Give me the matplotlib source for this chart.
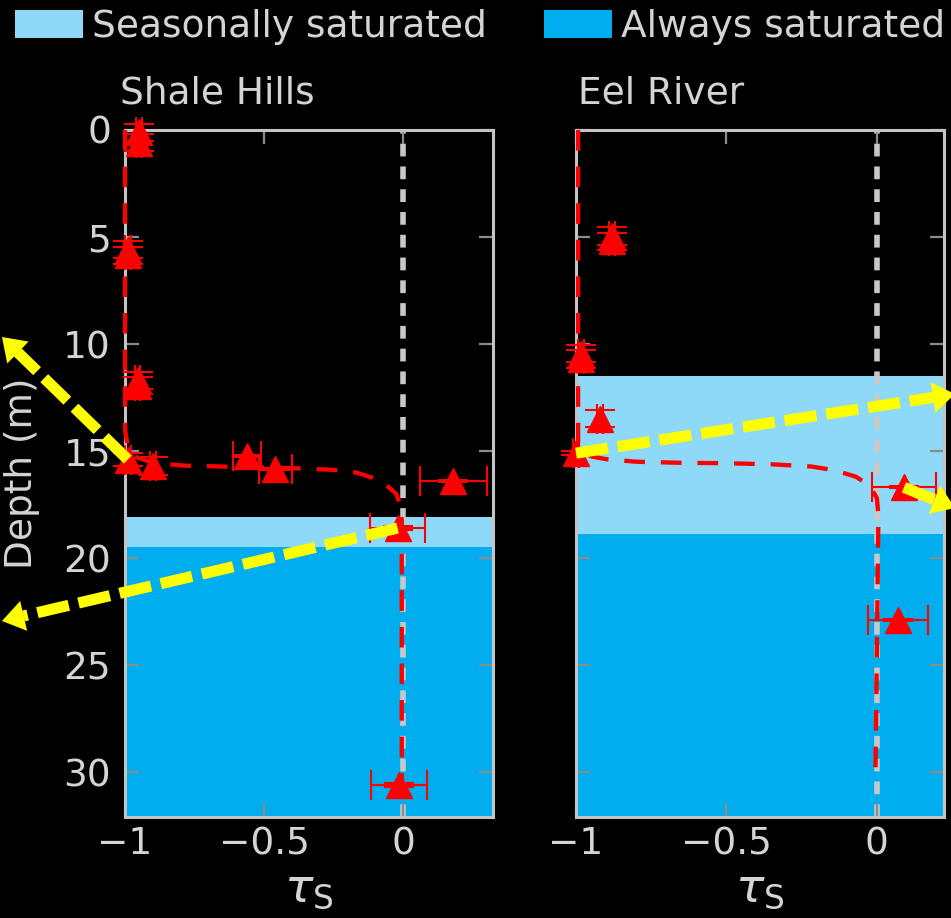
import matplotlib
matplotlib.use("Agg")
import numpy as np
import matplotlib.pyplot as plt
from matplotlib.patches import Patch, FancyArrowPatch
from matplotlib.lines import Line2D
from matplotlib.transforms import IdentityTransform

# ---------------- data ----------------
panel_titles = ["Shale Hills", "Eel River"]
legend_labels = ["Seasonally saturated", "Always saturated"]
xtick_vals = [-1, -0.5, 0]
xtick_labels = ["\u22121", "\u22120.5", "0"]
ytick_vals = [0, 5, 10, 15, 20, 25, 30]
ytick_labels = ["0", "5", "10", "15", "20", "25", "30"]

# Shale Hills measured tau_S (with error bars)
sh_tau = [-0.95, -0.95, -0.99, -0.99, -0.955, -0.955, -0.99, -0.90, -0.56, -0.46, 0.18, -0.02, -0.015]
sh_depth = [0.1, 0.6, 5.6, 5.85, 11.7, 11.95, 15.4, 15.7, 15.25, 15.85, 16.4, 18.6, 30.6]
sh_xerr = [0.01, 0.01, 0.01, 0.01, 0.01, 0.01, 0.01, 0.01, 0.05, 0.06, 0.12, 0.10, 0.10]
sh_yerr = [0.4, 0.4, 0.4, 0.4, 0.4, 0.4, 0.3, 0.4, 0.05, 0.05, 0.05, 0.1, 0.1]
# Shale Hills model curve
sh_model_tau = [-1.0, -1.0, -0.99, -0.968, -0.9, -0.79, -0.6, -0.4, -0.25, -0.17, -0.11, -0.06, -0.025, -0.008, -0.005, -0.005]
sh_model_depth = [0.0, 14.0, 14.8, 15.25, 15.55, 15.68, 15.74, 15.8, 15.88, 16.0, 16.25, 16.6, 17.0, 17.6, 18.3, 30.6]
# Shale Hills saturation zones (depth, m)
sh_seasonal = [18.1, 19.5]
sh_always = [19.5, 32.1]

# Eel River measured tau_S
er_tau = [-0.88, -0.88, -0.985, -0.985, -0.92, -1.0, 0.09, 0.07]
er_depth = [4.95, 5.2, 10.45, 10.7, 13.5, 15.1, 16.7, 22.9]
er_xerr = [0.01, 0.01, 0.01, 0.01, 0.01, 0.01, 0.105, 0.10]
er_yerr = [0.4, 0.4, 0.4, 0.4, 0.4, 0.1, 0.05, 0.05]
# Eel River model curve
er_model_tau = [-0.993, -0.993, -0.98, -0.95, -0.9, -0.8, -0.65, -0.5, -0.35, -0.22, -0.14, -0.07, -0.025, 0.0, 0.005, -0.005]
er_model_depth = [0.0, 14.6, 15.0, 15.25, 15.38, 15.5, 15.55, 15.57, 15.62, 15.72, 15.9, 16.2, 16.6, 17.2, 18.0, 30.4]
er_seasonal = [11.5, 18.9]
er_always = [18.9, 32.1]

# yellow arrows: start (data point index) -> tip (figure pixels from top-left)
sh_arrow_src = [6, 11]
sh_arrow_tip = [(2, 337), (2, 621)]
er_arrow_src = [5, 6]
er_arrow_tip = [(955, 394), (955, 508)]

# ---------------- style ----------------
W, H = 951, 918
BG = "black"
TXT = "#d4d4d4"
SPINE = "#c4c4c4"
TICK = "#8c8c8c"
C_SEAS = "#8ed8f8"
C_ALW = "#00aeef"
RED = "#ff0000"
YEL = "#ffff00"
FS = 27

fig = plt.figure(figsize=(W / 100, H / 100), dpi=100, facecolor=BG)

def px_rect(x0, y0, x1, y1):
    return [x0 / W, 1 - y1 / H, (x1 - x0) / W, (y1 - y0) / H]

ax1 = fig.add_axes(px_rect(125, 130, 493, 817))
ax2 = fig.add_axes(px_rect(576, 130, 944, 817))

panels = [
    (ax1, sh_tau, sh_depth, sh_xerr, sh_yerr, sh_model_tau, sh_model_depth,
     sh_seasonal, sh_always, (-1.0, 0.323), sh_arrow_src, sh_arrow_tip, -0.014),
    (ax2, er_tau, er_depth, er_xerr, er_yerr, er_model_tau, er_model_depth,
     er_seasonal, er_always, (-1.0, 0.223), er_arrow_src, er_arrow_tip, 0.005),
]

HEAD_LEN = 22.0  # px
for i, (ax, tau, dep, xe, ye, mt, md, seas, alw, xl, asrc, atip, tx) in enumerate(panels):
    ax.set_facecolor(BG)
    ax.axhspan(seas[0], seas[1], color=C_SEAS, lw=0, zorder=0)
    ax.axhspan(alw[0], alw[1], color=C_ALW, lw=0, zorder=0)
    ax.axvline(0, color="#c8c8c8", lw=4, dashes=(2.3, 1.8), zorder=1)
    ax.plot(mt, md, color=RED, lw=3.1, dashes=(4.8, 3.7), zorder=3, clip_on=False)
    ax.errorbar(tau, dep, xerr=xe, yerr=ye, fmt="^", color=RED, ms=19,
                ecolor=RED, elinewidth=1.5, capsize=11, capthick=1.5, zorder=4,
                clip_on=False)
    ax.set_xlim(*xl)
    ax.set_ylim(32.1, 0)
    ax.set_xticks(xtick_vals)
    ax.set_xticklabels(xtick_labels)
    ax.set_yticks(ytick_vals)
    if i == 0:
        ax.set_yticklabels(ytick_labels)
    else:
        ax.set_yticklabels([])
    ax.tick_params(axis="both", direction="in", length=10, width=1.6, color=TICK,
                   labelcolor=TXT, labelsize=FS, top=True, right=True)
    ax.tick_params(axis="x", pad=6.5)
    ax.tick_params(axis="y", pad=10)
    for s in ax.spines.values():
        s.set_color(SPINE)
        s.set_linewidth(2.2)
    ax.set_xlabel(r"$\tau_\mathrm{S}$", fontsize=34, color=TXT, labelpad=3)
    ax.set_title(panel_titles[i], loc="left", x=tx, fontsize=FS, color=TXT, pad=19)
    # yellow dashed arrows (pixel coordinates)
    for si, tip in zip(asrc, atip):
        sx, sy = ax.transData.transform((tau[si], dep[si]))
        ex, ey = tip[0], H - tip[1]
        d = np.hypot(ex - sx, ey - sy)
        bx = ex - (ex - sx) / d * HEAD_LEN
        by = ey - (ey - sy) / d * HEAD_LEN
        fig.add_artist(Line2D([sx, bx], [sy, by], transform=IdentityTransform(),
                              color=YEL, lw=8, dashes=(2.9, 0.9),
                              dash_capstyle="butt", zorder=6))
        fig.add_artist(FancyArrowPatch((sx, sy), (ex, ey), transform=IdentityTransform(),
                                       arrowstyle="-|>,head_length=16,head_width=11",
                                       mutation_scale=1, color=YEL, lw=0,
                                       shrinkA=0, shrinkB=0, zorder=6))

ax1.set_ylabel("Depth (m)", fontsize=FS, color=TXT, labelpad=17)

handles = [Patch(facecolor=C_SEAS, edgecolor="none", label=legend_labels[0]),
           Patch(facecolor=C_ALW, edgecolor="none", label=legend_labels[1])]
fig.legend(handles=handles, loc="upper left", bbox_to_anchor=(15 / W, 1 - 9 / H),
           ncol=2, frameon=False, fontsize=27, labelcolor=TXT,
           handlelength=1.82, handleheight=0.75, handletextpad=0.24,
           columnspacing=1.52, borderpad=0, borderaxespad=0)

fig.savefig("out.png", dpi=100, facecolor=BG)
